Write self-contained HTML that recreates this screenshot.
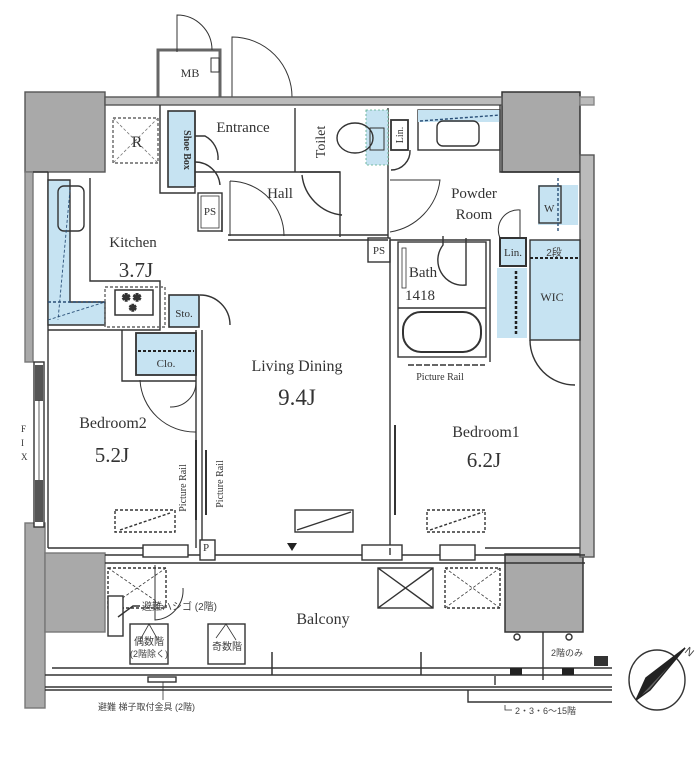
<!DOCTYPE html>
<html><head><meta charset="utf-8"><style>
html,body{margin:0;padding:0;background:#fff;width:700px;height:760px;overflow:hidden}
svg{display:block}
text{font-family:"Liberation Serif","Noto Serif CJK SC",serif;fill:#333}
.j{font-family:"Liberation Sans","Noto Sans CJK JP",sans-serif;fill:#444}
</style></head><body>
<svg width="700" height="760" viewBox="0 0 700 760" xmlns="http://www.w3.org/2000/svg">
<g fill="none" stroke="#333" stroke-width="1.4">
<rect x="25" y="92" width="80" height="80" fill="#a9a9a9" stroke="#555"/>
<rect x="25" y="172" width="8" height="190" fill="#a9a9a9" stroke="#777"/>
<rect x="25" y="523" width="20" height="185" fill="#a9a9a9" stroke="#777"/>
<rect x="45" y="553" width="60" height="79" fill="#a9a9a9" stroke="#777"/>
<rect x="502" y="92" width="78" height="80" fill="#a9a9a9" stroke="#333" stroke-width="1.5"/>
<rect x="505" y="554" width="78" height="78" fill="#a9a9a9" stroke="#333" stroke-width="1.5"/>
<rect x="158" y="50" width="62" height="48" fill="#fff" stroke="#666" stroke-width="3"/>
<path d="M177 52 V15 A35 35 0 0 1 212 50" stroke-width="1"/>
<path d="M232 98 V37 A60 60 0 0 1 292 98" stroke-width="1"/>
<rect x="211" y="58" width="8" height="14" stroke-width="1"/>
<rect x="105" y="97" width="397" height="8" fill="#bbb" stroke="#555"/>
<rect x="580" y="97" width="14" height="8" fill="#bbb" stroke="#888"/>
<rect x="580" y="155" width="14" height="402" fill="#bbb" stroke="#555"/>
<line x1="48" y1="172" x2="48" y2="548"/>
<line x1="33" y1="172" x2="48" y2="172"/>
<rect x="34" y="362" width="10" height="165" fill="#fff" stroke="#333"/>
<rect x="35" y="365" width="8" height="36" fill="#555" stroke="none"/>
<rect x="35" y="480" width="8" height="42" fill="#555" stroke="none"/>
<line x1="39" y1="400" x2="39" y2="480" stroke-width="0.8"/>
<rect x="113" y="118" width="45" height="45" stroke-dasharray="3,2" stroke="#666"/>
<path d="M113 118 L158 163 M158 118 L113 163" stroke-dasharray="3,2" stroke="#777" stroke-width="0.8"/>
<path d="M48 180 H70 V302 H105 V325 H48 Z" fill="#c6e3f2" stroke="#333"/>
<rect x="58" y="186" width="26" height="45" rx="6" stroke="#333"/>
<path d="M70 190 L58 320 M48 320 L105 302" stroke-dasharray="3,2" stroke="#2a5078" stroke-width="0.9"/>
<line x1="48" y1="302" x2="105" y2="302" stroke-dasharray="3,2" stroke="#2a5078"/>
<path d="M90 178 V281 H160 V330 H48"/>
<rect x="105" y="287" width="60" height="40" stroke-dasharray="3,2" stroke="#666"/>
<rect x="115" y="290" width="38" height="25" stroke-width="1.5"/>
<text x="122" y="301" font-size="10">✱ ✱</text><text x="129" y="311" font-size="9">✱</text>
<rect x="169" y="295" width="30" height="32" fill="#c6e3f2" stroke-width="1.6"/>
<path d="M200 295 A30 30 0 0 1 230 325"/>
<rect x="168" y="111" width="27" height="76" fill="#c6e3f2" stroke-width="1.6"/>
<path d="M195 111 V187 M160 105 V193 H195 V188"/>
<path d="M195 136 H205 A25 25 0 0 1 218 160 M195 162 A25 25 0 0 1 220 185"/>
<rect x="198" y="193" width="24" height="38"/>
<rect x="201" y="196" width="18" height="32" stroke-width="0.8"/>
<path d="M195 172 H340 M295 108 V172 M222 232 V210 M228 235 H388 M228 240 H388"/>
<path d="M230 181 A55 55 0 0 1 284 236 M230 181 V236" stroke-width="1"/>
<path d="M300 172 H340 V237"/>
<path d="M302 175 A45 45 0 0 0 342 215 H340"/>
<line x1="388" y1="108" x2="388" y2="238"/>
<rect x="366" y="110" width="22" height="55" fill="#c6e3f2" stroke="#5a8" stroke-dasharray="2,2" stroke-width="0.8"/>
<ellipse cx="355" cy="138" rx="18" ry="15"/>
<rect x="370" y="128" width="14" height="22" stroke-width="1"/>
<rect x="391" y="120" width="17" height="30" stroke-width="1.8"/>
<path d="M391 170 A19 19 0 0 0 410 150"/>
<rect x="418" y="110" width="82" height="40" fill="#fff"/>
<rect x="418" y="110" width="82" height="12" fill="#c6e3f2" stroke="none"/>
<line x1="420" y1="121" x2="500" y2="115" stroke-dasharray="3,2" stroke="#2a5078"/>
<rect x="437" y="121" width="42" height="25" rx="6"/>
<path d="M390 180 H440 A60 60 0 0 1 390 232" stroke-width="1"/>
<path d="M500 105 V172 H580"/>
<rect x="538" y="185" width="40" height="40" fill="#c6e3f2" stroke="none"/>
<rect x="539" y="186" width="22" height="37"/>
<line x1="558" y1="178" x2="558" y2="232" stroke-dasharray="3,2" stroke="#2a5078"/>
<rect x="368" y="238" width="22" height="24"/>
<path d="M390 240 H490 V362 M390 240 V555"/>
<rect x="398" y="242" width="88" height="115"/>
<line x1="398" y1="308" x2="486" y2="308"/>
<rect x="403" y="312" width="78" height="40" rx="18" stroke-width="2"/>
<path d="M443 236 V245 A25 25 0 0 0 466 285 V238"/>
<rect x="402" y="248" width="4" height="40" stroke-width="0.8"/>
<rect x="500" y="238" width="26" height="28" fill="#c6e3f2" stroke-width="2"/>
<path d="M500 238 A20 20 0 0 1 520 210 V238" stroke-width="1"/>
<rect x="530" y="240" width="50" height="100" fill="#c6e3f2" stroke="#333"/>
<rect x="497" y="268" width="30" height="70" fill="#c6e3f2" stroke="none"/>
<line x1="530" y1="258" x2="580" y2="258" stroke="#222" stroke-width="2" stroke-dasharray="3,2"/>
<line x1="516" y1="271" x2="516" y2="336" stroke="#222" stroke-width="2.5" stroke-dasharray="3,2"/>
<path d="M530 340 A45 45 0 0 0 575 385"/>
<rect x="136" y="333" width="60" height="42" fill="#c6e3f2" stroke-width="1.8"/>
<line x1="138" y1="351" x2="194" y2="351" stroke="#222" stroke-width="2" stroke-dasharray="3,2"/>
<path d="M122 330 V381 H196 M196 330 V548 M202 330 V548"/>
<path d="M140 380 A55 55 0 0 0 196 432 M196 382 A25 25 0 0 1 170 407" stroke-width="1"/>
<line x1="196" y1="440" x2="196" y2="520" stroke-width="2"/>
<line x1="206" y1="450" x2="206" y2="515" stroke-width="2"/>
<path d="M48 548 H145"/>
<rect x="115" y="510" width="60" height="22" stroke-dasharray="3,2"/>
<line x1="120" y1="530" x2="170" y2="513" stroke-dasharray="3,2"/>
<rect x="295" y="510" width="58" height="22"/>
<line x1="297" y1="530" x2="351" y2="512"/>
<rect x="427" y="510" width="58" height="22" stroke-dasharray="3,2"/>
<line x1="430" y1="530" x2="483" y2="512" stroke-dasharray="3,2"/>
<line x1="408" y1="365" x2="485" y2="365" stroke-dasharray="6,2"/>
<line x1="395" y1="425" x2="395" y2="515" stroke-width="2"/>
<path d="M105 555 H585 M105 563 H585" stroke="#333"/>
<rect x="143" y="545" width="45" height="12" fill="#fff"/>
<rect x="200" y="540" width="15" height="20" fill="#fff"/>
<rect x="362" y="545" width="40" height="15" fill="#fff"/>
<rect x="440" y="545" width="35" height="15" fill="#fff"/>
<path d="M390 548 V555 M485 548 H580"/>
<polygon points="287,543 297,543 292,551" fill="#222" stroke="none"/>
<rect x="108" y="568" width="58" height="40" stroke-dasharray="3,2"/>
<path d="M108 568 L166 608 M166 568 L108 608" stroke-dasharray="3,2" stroke-width="0.8"/>
<path d="M155 565 V620 A30 30 0 0 0 183 588" stroke-width="1"/>
<rect x="378" y="568" width="55" height="40"/>
<path d="M378 568 L433 608 M433 568 L378 608"/>
<rect x="445" y="568" width="55" height="40" stroke-dasharray="3,2"/>
<path d="M445 568 L500 608 M500 568 L445 608" stroke-dasharray="3,2" stroke-width="0.8"/>
<rect x="108" y="596" width="15" height="40" fill="#fff"/>
<path d="M118 617 L133 606 H140"/>
<rect x="130" y="624" width="38" height="40"/>
<path d="M140 640 L149 624 L158 640" stroke-width="0.8"/>
<rect x="208" y="624" width="37" height="40"/>
<path d="M216 638 L226 624 L236 640" stroke-width="0.8"/>
<line x1="272" y1="652" x2="272" y2="675" stroke-width="1.5"/>
<line x1="421" y1="652" x2="421" y2="675" stroke-width="1.5"/>
<line x1="543" y1="632" x2="543" y2="680"/>
<circle cx="517" cy="637" r="3"/><circle cx="569" cy="637" r="3"/>
<path d="M52 668 H612 M45 675 H612 M45 687 H612 M45 690 H612"/>
<rect x="148" y="677" width="28" height="5" fill="#fff"/>
<line x1="163" y1="682" x2="163" y2="700" stroke-width="0.8"/>
<rect x="510" y="668" width="12" height="7" fill="#222" stroke="none"/>
<rect x="562" y="668" width="12" height="7" fill="#222" stroke="none"/>
<rect x="594" y="656" width="14" height="10" fill="#333" stroke="none"/>
<path d="M495 676 V685 M468 690 V702 H612"/>
<path d="M505 705 V710 H512" stroke-width="0.8"/>
<ellipse cx="657" cy="680" rx="28" ry="30"/>
<polygon points="685,648 636,700 646,678" fill="#222" stroke="#222"/>
<polygon points="685,648 636,700 650,690" fill="#666" stroke="#222"/>
</g>
<text x="190" y="77" font-size="12" text-anchor="middle">MB</text>
<text x="137" y="147" font-size="16" text-anchor="middle">R</text>
<text x="243" y="132" font-size="15" text-anchor="middle">Entrance</text>
<text transform="translate(325,142) rotate(-90)" font-size="14" text-anchor="middle">Toilet</text>
<text transform="translate(184,150) rotate(90)" font-size="10" text-anchor="middle" font-weight="bold">Shoe Box</text>
<text transform="translate(403,135) rotate(-90)" font-size="10" text-anchor="middle">Lin.</text>
<text x="280" y="198" font-size="15" text-anchor="middle">Hall</text>
<text x="474" y="198" font-size="15" text-anchor="middle">Powder</text>
<text x="474" y="219" font-size="15" text-anchor="middle">Room</text>
<text x="544" y="212" font-size="11">W</text>
<text x="210" y="215" font-size="11" text-anchor="middle">PS</text>
<text x="379" y="254" font-size="11" text-anchor="middle">PS</text>
<text x="133" y="247" font-size="15" text-anchor="middle">Kitchen</text>
<text x="136" y="277" font-size="21" text-anchor="middle">3.7J</text>
<text x="423" y="277" font-size="15" text-anchor="middle">Bath</text>
<text x="420" y="300" font-size="15" text-anchor="middle">1418</text>
<text x="513" y="256" font-size="11" text-anchor="middle">Lin.</text>
<text x="554" y="256" font-size="10" text-anchor="middle" class="j">2段</text>
<text x="552" y="301" font-size="12" text-anchor="middle">WIC</text>
<text x="184" y="317" font-size="11" text-anchor="middle">Sto.</text>
<text x="166" y="367" font-size="11" text-anchor="middle">Clo.</text>
<text x="297" y="371" font-size="16" text-anchor="middle">Living Dining</text>
<text x="297" y="405" font-size="23" text-anchor="middle">9.4J</text>
<text x="440" y="380" font-size="10" text-anchor="middle">Picture Rail</text>
<text x="113" y="428" font-size="16" text-anchor="middle">Bedroom2</text>
<text x="112" y="462" font-size="21" text-anchor="middle">5.2J</text>
<text x="486" y="437" font-size="16" text-anchor="middle">Bedroom1</text>
<text x="484" y="467" font-size="21" text-anchor="middle">6.2J</text>
<text transform="translate(186,488) rotate(-90)" font-size="10" text-anchor="middle">Picture Rail</text>
<text transform="translate(223,484) rotate(-90)" font-size="10" text-anchor="middle">Picture Rail</text>
<text x="21" y="432" font-size="9">F</text><text x="21" y="446" font-size="9">I</text><text x="21" y="460" font-size="9">X</text>
<text x="206" y="551" font-size="11" text-anchor="middle">P</text>
<text x="323" y="624" font-size="16" text-anchor="middle">Balcony</text>
<text x="142" y="610" font-size="10" class="j">避難ハシゴ (2階)</text>
<text x="149" y="645" font-size="10" text-anchor="middle" class="j">偶数階</text>
<text x="149" y="657" font-size="9" text-anchor="middle" class="j">(2階除く)</text>
<text x="227" y="650" font-size="10" text-anchor="middle" class="j">奇数階</text>
<text x="98" y="710" font-size="9" class="j">避難 梯子取付金具 (2階)</text>
<text x="551" y="656" font-size="9" class="j">2階のみ</text>
<text x="515" y="714" font-size="9" class="j">2・3・6～15階</text>
<text x="684" y="652" font-size="11" class="j" transform="rotate(40 684 652)">N</text>
</svg>
</body></html>
